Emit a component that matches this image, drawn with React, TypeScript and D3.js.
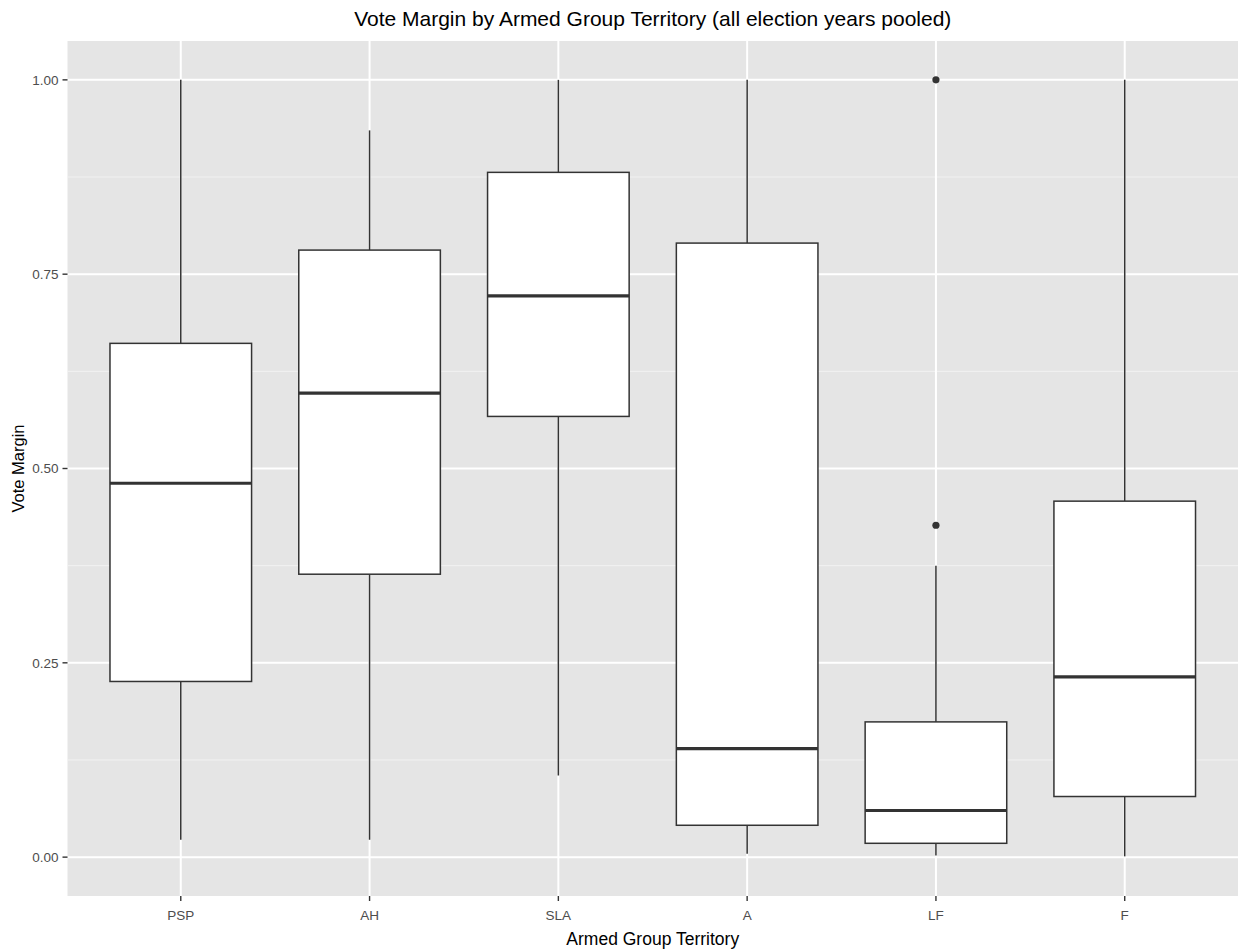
import React, { useEffect, useRef } from "react";
import * as d3 from "d3";

const groups = ["PSP", "AH", "SLA", "A", "LF", "F"];
const whiskerLow = [0.0225, 0.0225, 0.105, 0.0045, 0.002, 0.001];
const q1 = [0.226, 0.364, 0.567, 0.041, 0.0178, 0.078];
const medians = [0.481, 0.597, 0.722, 0.1395, 0.06, 0.232];
const q3 = [0.661, 0.781, 0.881, 0.79, 0.174, 0.458];
const whiskerHigh = [1.0, 0.935, 1.0, 1.0, 0.375, 1.0];
const outliers = [
  { group: "LF", value: 1.0 },
  { group: "LF", value: 0.427 },
];
const yTicks = [0, 0.25, 0.5, 0.75, 1.0];
const yMinor = [0.125, 0.375, 0.625, 0.875];

const W = 1238, H = 951;
const margin = { top: 41, right: 0, bottom: 55, left: 67.5 };

const App = () => {
  const ref = useRef<SVGSVGElement>(null);

  useEffect(() => {
    const svg = d3.select(ref.current);
    svg.selectAll("*").remove();

    const innerW = W - margin.left - margin.right;
    const innerH = H - margin.top - margin.bottom;
    const font = "'Liberation Sans', Arial, sans-serif";

    // discrete scale with ggplot's 0.6 expansion on each side
    const step = innerW / (groups.length - 1 + 1.2);
    const x = (g: string) => margin.left + step * (0.6 + groups.indexOf(g));
    const y = d3.scaleLinear().domain([-0.05, 1.05]).range([margin.top + innerH, margin.top]);
    const boxW = step * 0.75;

    const g = svg.append("g");
    g.append("rect")
      .attr("x", margin.left).attr("y", margin.top)
      .attr("width", innerW).attr("height", innerH)
      .attr("fill", "#e5e5e5");

    g.selectAll(".minor").data(yMinor).enter().append("line")
      .attr("x1", margin.left).attr("x2", W - margin.right)
      .attr("y1", d => y(d)).attr("y2", d => y(d))
      .attr("stroke", "#f2f2f2").attr("stroke-width", 1);
    g.selectAll(".majory").data(yTicks).enter().append("line")
      .attr("x1", margin.left).attr("x2", W - margin.right)
      .attr("y1", d => y(d)).attr("y2", d => y(d))
      .attr("stroke", "#fff").attr("stroke-width", 2);
    g.selectAll(".majorx").data(groups).enter().append("line")
      .attr("x1", d => x(d)).attr("x2", d => x(d))
      .attr("y1", margin.top).attr("y2", margin.top + innerH)
      .attr("stroke", "#fff").attr("stroke-width", 2);

    const stroke = "#333";
    groups.forEach((grp, i) => {
      const cx = x(grp);
      g.append("line").attr("x1", cx).attr("x2", cx)
        .attr("y1", y(q3[i])).attr("y2", y(whiskerHigh[i]))
        .attr("stroke", stroke).attr("stroke-width", 1.5);
      g.append("line").attr("x1", cx).attr("x2", cx)
        .attr("y1", y(q1[i])).attr("y2", y(whiskerLow[i]))
        .attr("stroke", stroke).attr("stroke-width", 1.5);
      g.append("rect")
        .attr("x", cx - boxW / 2).attr("width", boxW)
        .attr("y", y(q3[i])).attr("height", y(q1[i]) - y(q3[i]))
        .attr("fill", "#fff").attr("stroke", stroke).attr("stroke-width", 1.5);
      g.append("line").attr("x1", cx - boxW / 2).attr("x2", cx + boxW / 2)
        .attr("y1", y(medians[i])).attr("y2", y(medians[i]))
        .attr("stroke", stroke).attr("stroke-width", 3.2);
    });

    g.selectAll(".out").data(outliers).enter().append("circle")
      .attr("cx", d => x(d.group)).attr("cy", d => y(d.value))
      .attr("r", 3.6).attr("fill", stroke);

    // axes
    const tickCol = "#333";
    yTicks.forEach(t => {
      g.append("line").attr("x1", margin.left - 5).attr("x2", margin.left)
        .attr("y1", y(t)).attr("y2", y(t)).attr("stroke", tickCol).attr("stroke-width", 1.4);
      g.append("text").attr("x", margin.left - 9).attr("y", y(t)).attr("dy", "0.35em")
        .attr("text-anchor", "end").attr("font-family", font).attr("font-size", 13.5)
        .attr("fill", "#4d4d4d").text(d3.format(".2f")(t));
    });
    groups.forEach(grp => {
      g.append("line").attr("x1", x(grp)).attr("x2", x(grp))
        .attr("y1", margin.top + innerH).attr("y2", margin.top + innerH + 5)
        .attr("stroke", tickCol).attr("stroke-width", 1.4);
      g.append("text").attr("x", x(grp)).attr("y", margin.top + innerH + 24)
        .attr("text-anchor", "middle").attr("font-family", font).attr("font-size", 13.5)
        .attr("fill", "#4d4d4d").text(grp);
    });

    const cxPanel = margin.left + innerW / 2;
    g.append("text").attr("x", cxPanel).attr("y", 26)
      .attr("text-anchor", "middle").attr("font-family", font).attr("font-size", 21)
      .attr("fill", "#000").text("Vote Margin by Armed Group Territory (all election years pooled)");
    g.append("text").attr("x", cxPanel).attr("y", 945)
      .attr("text-anchor", "middle").attr("font-family", font).attr("font-size", 17.5)
      .attr("fill", "#000").text("Armed Group Territory");
    g.append("text")
      .attr("transform", `translate(24, ${margin.top + innerH / 2}) rotate(-90)`)
      .attr("text-anchor", "middle").attr("font-family", font).attr("font-size", 16.5)
      .attr("fill", "#000").text("Vote Margin");
  }, []);

  return (
    <svg ref={ref} width={W} height={H}
      style={{ position: "absolute", left: 0, top: 0, background: "#fff" }} />
  );
};

export default App;
